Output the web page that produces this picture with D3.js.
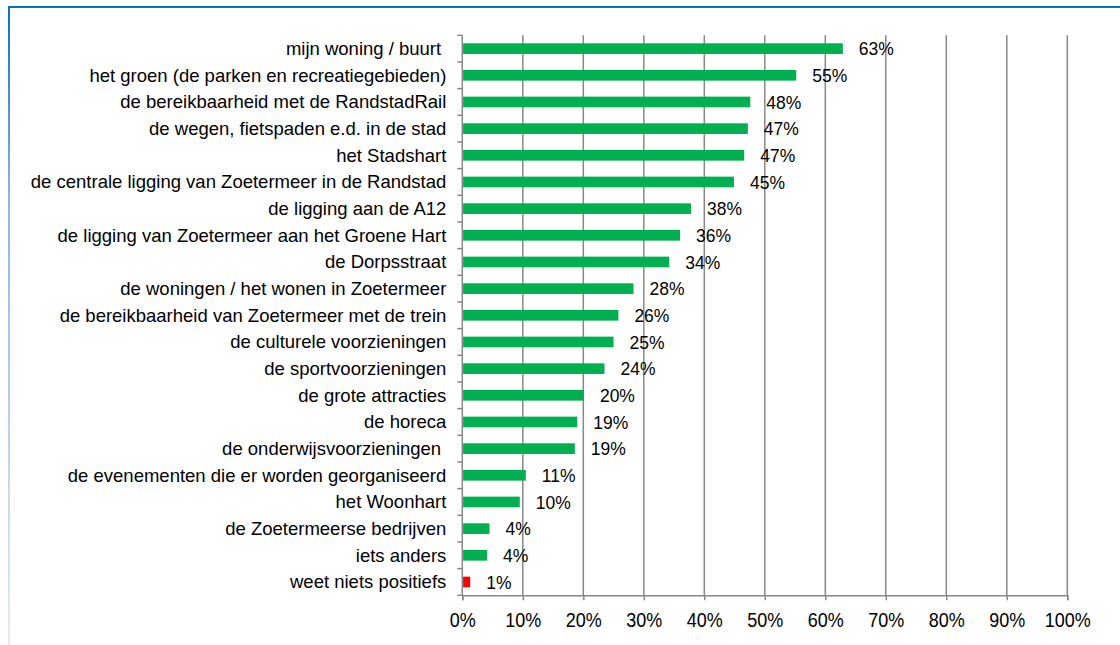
<!DOCTYPE html>
<html>
<head>
<meta charset="utf-8">
<script src="https://cdn.jsdelivr.net/npm/d3@7"></script>
<style>
  body { margin: 0; background: #fff; }
  svg { display: block; font-family: "Liberation Sans", Arial, sans-serif; }
</style>
</head>
<body>
<svg id="chart" width="1120" height="645"></svg>
<script>
// categories, top to bottom
const categories = [
  'mijn woning / buurt ',
  'het groen (de parken en recreatiegebieden)',
  'de bereikbaarheid met de RandstadRail',
  'de wegen, fietspaden e.d. in de stad',
  'het Stadshart',
  'de centrale ligging van Zoetermeer in de Randstad',
  'de ligging aan de A12',
  'de ligging van Zoetermeer aan het Groene Hart',
  'de Dorpsstraat',
  'de woningen / het wonen in Zoetermeer',
  'de bereikbaarheid van Zoetermeer met de trein',
  'de culturele voorzieningen',
  'de sportvoorzieningen',
  'de grote attracties',
  'de horeca',
  'de onderwijsvoorzieningen ',
  'de evenementen die er worden georganiseerd',
  'het Woonhart',
  'de Zoetermeerse bedrijven',
  'iets anders',
  'weet niets positiefs'
];

// bar lengths (percent)
const values = [62.9, 55.2, 47.6, 47.2, 46.6, 44.9, 37.8, 36.0, 34.2, 28.3, 25.8,
  25.0, 23.5, 20.1, 19.0, 18.6, 10.5, 9.5, 4.5, 4.1, 1.3];

// printed labels next to the bars
const valueLabels = [63, 55, 48, 47, 47, 45, 38, 36, 34, 28, 26, 25, 24, 20, 19, 19, 11, 10, 4, 4, 1];

const xTicks = [0, 10, 20, 30, 40, 50, 60, 70, 80, 90, 100];

const svg = d3.select('#chart');
const margin = { top: 35.3, left: 462.3, right: 1120 - 1067.3, bottom: 645 - 595.3 };
const width = 1120, height = 645;

// frame around the figure
const defs = svg.append('defs');
const grad = defs.append('linearGradient')
  .attr('id', 'edge').attr('x1', 0).attr('y1', 0).attr('x2', 0).attr('y2', 1);
grad.append('stop').attr('offset', '0%').attr('stop-color', '#0b6fc2');
grad.append('stop').attr('offset', '30%').attr('stop-color', '#8db6e2');
grad.append('stop').attr('offset', '100%').attr('stop-color', '#e6e9f6');

svg.append('rect')
  .attr('x', 8).attr('y', 7).attr('width', 2).attr('height', height - 7)
  .attr('fill', 'url(#edge)');
svg.append('line')
  .attr('x1', 8).attr('x2', width).attr('y1', 7).attr('y2', 7)
  .attr('stroke', '#0b6fc2').attr('stroke-width', 2);

const x = d3.scaleLinear()
  .domain([0, 100])
  .range([margin.left, width - margin.right]);

const y = d3.scaleBand()
  .domain(categories)
  .range([margin.top, height - margin.bottom])
  .paddingInner(0.6)
  .paddingOuter(0.3);

const gray = '#888888';

// vertical gridlines
svg.append('g')
  .selectAll('line')
  .data(xTicks.slice(1))
  .join('line')
  .attr('x1', d => x(d)).attr('x2', d => x(d))
  .attr('y1', margin.top).attr('y2', height - margin.bottom)
  .attr('stroke', gray).attr('stroke-width', 1.5);

// x axis
const xAxis = svg.append('g')
  .attr('transform', `translate(0, ${height - margin.bottom})`)
  .call(d3.axisBottom(x).tickValues(xTicks).tickFormat(d => d + '%').tickSize(5).tickPadding(0));
xAxis.select('.domain').attr('stroke', gray).attr('stroke-width', 1.5);
xAxis.selectAll('.tick line').attr('stroke', gray).attr('stroke-width', 1.5);
// the picture's axis labels are a little taller than they are wide
xAxis.selectAll('.tick text')
  .attr('y', 0).attr('dy', 0)
  .attr('transform', 'translate(0, 32) scale(1, 1.12)')
  .attr('fill', '#000').style('font-size', '18px');

// y axis with ticks at the category boundaries
const yAxis = svg.append('g')
  .attr('transform', `translate(${margin.left}, 0)`);
yAxis.append('line')
  .attr('x1', 0).attr('x2', 0)
  .attr('y1', margin.top).attr('y2', height - margin.bottom)
  .attr('stroke', gray).attr('stroke-width', 1.5);
const step = y.step();
yAxis.selectAll('line.tick')
  .data(d3.range(categories.length + 1))
  .join('line')
  .attr('class', 'tick')
  .attr('x1', -5).attr('x2', 0)
  .attr('y1', i => margin.top + i * step).attr('y2', i => margin.top + i * step)
  .attr('stroke', gray).attr('stroke-width', 1.5);
yAxis.selectAll('text')
  .data(categories)
  .join('text')
  .attr('x', -16)
  .attr('y', d => y(d) + y.bandwidth() / 2)
  .attr('dy', '0.35em')
  .attr('text-anchor', 'end')
  .attr('fill', '#000')
  .style('font-size', '18.5px')
  .style('white-space', 'pre')
  .text(d => d);

// bars
svg.append('g')
  .selectAll('rect')
  .data(categories)
  .join('rect')
  .attr('x', x(0) + 0.8)
  .attr('y', d => y(d))
  .attr('width', (d, i) => x(values[i]) - x(0) - 0.8)
  .attr('height', y.bandwidth())
  .attr('fill', (d, i) => i === categories.length - 1 ? '#ff0000' : '#00b050');

// value labels
svg.append('g')
  .selectAll('text')
  .data(categories)
  .join('text')
  .attr('transform', (d, i) =>
    `translate(${x(values[i]) + 16}, ${y(d) + y.bandwidth() / 2}) scale(1, 1.06)`)
  .attr('dy', '0.36em')
  .attr('fill', '#000')
  .style('font-size', '17.5px')
  .text((d, i) => valueLabels[i] + '%');
</script>
</body>
</html>
